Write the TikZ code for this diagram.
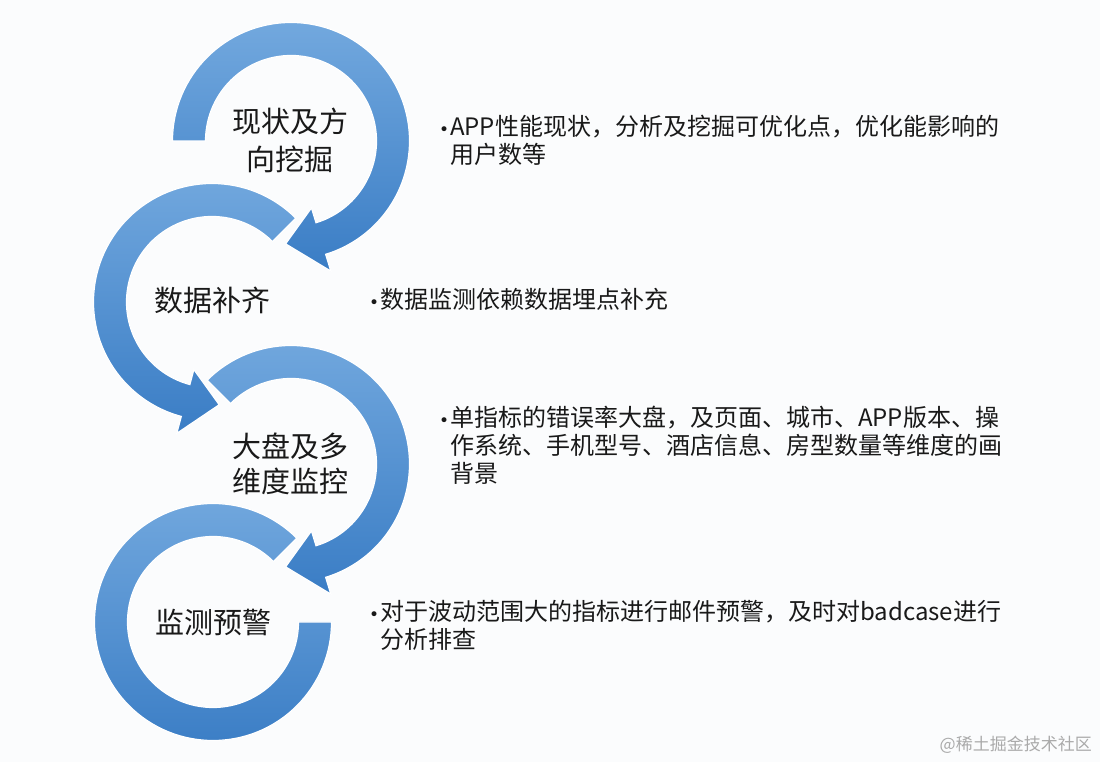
\documentclass[tikz,border=0pt]{standalone}
\usepackage{fontspec}
\newfontfamily\cjk{Noto Sans CJK SC}
\newfontfamily\bulletfont{DejaVu Sans}
\definecolor{arcLight}{RGB}{114,168,222}
\definecolor{arcDark}{RGB}{58,125,197}
\definecolor{ink}{RGB}{25,25,25}
\definecolor{bgc}{RGB}{251,252,253}
\definecolor{wmgray}{RGB}{170,170,170}
\newcommand{\bul}{\llap{{\bulletfont\fontsize{17}{20}\selectfont •}\hspace{1pt}}}
\begin{document}
\begin{tikzpicture}[x=1pt,y=1pt,
  ring/.style={draw=white, line width=1.2pt, top color=arcLight, bottom color=arcDark},
  circlabel/.style={font=\cjk\fontsize{29}{38}\selectfont, text=ink, align=center, inner sep=0pt},
  desc/.style={font=\cjk\fontsize{24}{28}\selectfont, text=ink, align=left, anchor=base west, inner sep=0pt},
]
\fill[bgc] (0,0) rectangle (1100,762);
\useasboundingbox (0,0) rectangle (1100,762);

\def\Ro{118.5}
\def\Ri{85.5}
\def\Bo{136}
\def\Bi{70}
\def\Rm{103}

\coordinate (c1) at (291,621);
\coordinate (c2) at (212,460);
\coordinate (c3) at (291,298);
\coordinate (c4) at (213,140);

% arc 4 (bottom, no arrowhead)
\shadedraw[ring, shift={(c4)}] (45:\Ro) arc[start angle=45, end angle=360, radius=\Ro]
  -- (0:\Ri) arc[start angle=360, end angle=45, radius=\Ri] -- cycle;
% arc 3
\shadedraw[ring, shift={(c3)}] (135:\Ro) arc[start angle=135, end angle=-73, radius=\Ro]
  -- (-73:\Bo) -- (-93:\Rm) -- (-73:\Bi) -- (-73:\Ri)
  arc[start angle=-73, end angle=135, radius=\Ri] -- cycle;
% arc 2
\shadedraw[ring, shift={(c2)}] (45:\Ro) arc[start angle=45, end angle=255, radius=\Ro]
  -- (255:\Bo) -- (274:\Rm) -- (255:\Bi) -- (255:\Ri)
  arc[start angle=255, end angle=45, radius=\Ri] -- cycle;
% arc 1
\shadedraw[ring, shift={(c1)}] (180:\Ro) arc[start angle=180, end angle=-73, radius=\Ro]
  -- (-73:\Bo) -- (-93:\Rm) -- (-73:\Bi) -- (-73:\Ri)
  arc[start angle=-73, end angle=180, radius=\Ri] -- cycle;

\node[circlabel] (t1) at (290,622) {现状及方\\向挖掘};
\node[circlabel] (t2) at (212,462) {数据补齐};
\node[circlabel, font=\cjk\fontsize{29}{35}\selectfont] (t3) at (290,298) {大盘及多\\维度监控};
\node[circlabel] (t4) at (213,140) {监测预警};

% anchor base = baseline of the last line
\node[desc] (d1) at (450,598) {\bul APP性能现状，分析及挖掘可优化点，优化能影响的\\用户数等};
\node[desc] (d2) at (380,453) {\bul 数据监测依赖数据埋点补充};
\node[desc] (d3) at (450,279) {\bul 单指标的错误率大盘，及页面、城市、APP版本、操\\作系统、手机型号、酒店信息、房型数量等维度的画\\背景};
\node[desc] (d4) at (380,113) {\bul 对于波动范围大的指标进行邮件预警，及时对badcase进行\\分析排查};

\node[font=\cjk\fontsize{17}{20}\selectfont, text=wmgray, anchor=east, inner sep=0pt] (wm) at (1092,17) {@稀土掘金技术社区};
\end{tikzpicture}
\end{document}
